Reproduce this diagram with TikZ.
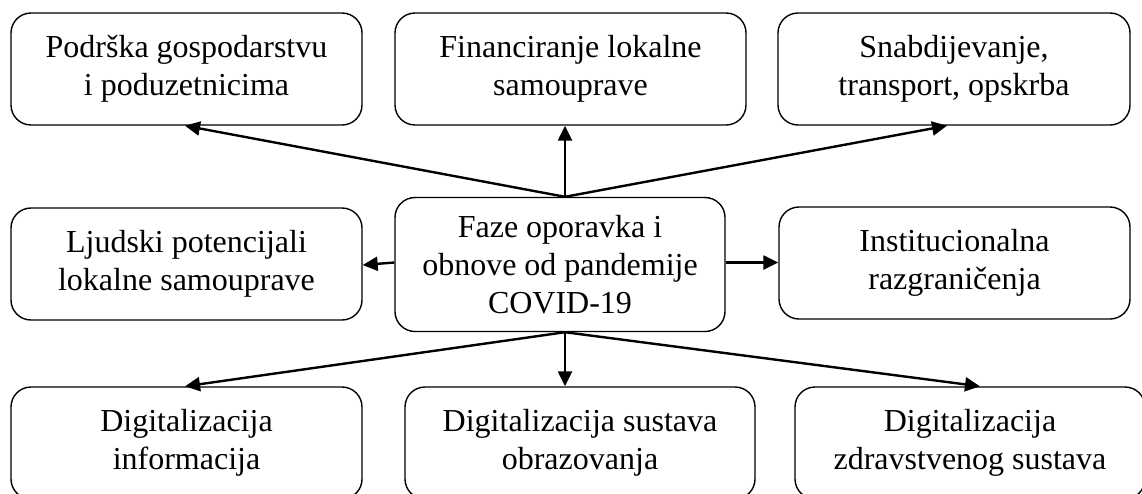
\documentclass[tikz,border=0pt]{standalone}
\usepackage{fontspec}
\setmainfont{Liberation Serif}
\usetikzlibrary{arrows.meta,calc}
\begin{document}
\begin{tikzpicture}[x=1pt,y=-1pt,
  box/.style={draw,line width=1.4pt,rounded corners=20pt,align=center,
    minimum width=351pt,minimum height=112pt,inner sep=0pt,
    font=\fontsize{32}{38}\selectfont},
  arr/.style={line width=2.4pt,-{Triangle[length=15pt,width=14pt]}}]
\useasboundingbox (0,0) rectangle (1142,493);
\clip (0,0) rectangle (1142,493);
\node[box] (tl) at (186.5,69) {Podrška gospodarstvu\\i poduzetnicima};
\node[box] (tm) at (570.5,69) {Financiranje lokalne\\samouprave};
\node[box,minimum width=352pt] (tr) at (954,69) {Snabdijevanje,\\transport, opskrba};
\node[box] (ml) at (186.5,264) {Ljudski potencijali\\lokalne samouprave};
\node[box,minimum width=330pt,minimum height=134pt] (c) at (560,264.5) {Faze oporavka i\\obnove od pandemije\\COVID-19};
\node[box] (mr) at (954.5,263) {Institucionalna\\razgraničenja};
\node[box] (bl) at (186.5,443) {Digitalizacija\\informacija};
\node[box,minimum width=350pt] (bm) at (580,443) {Digitalizacija sustava\\obrazovanja};
\node[box,minimum width=350pt] (br) at (970,443) {Digitalizacija\\zdravstvenog sustava};
\coordinate (ctop) at ($(c.north)+(5,0)$);
\coordinate (cbot) at ($(c.south)+(5,0)$);
\draw[arr] (ctop) -- ($(tl.south)+(-1.5,0)$);
\draw[arr] (ctop) -- (tm.south -| ctop);
\draw[arr] (ctop) -- ($(tr.south)+(-7,0)$);
\draw[arr] ($(c.west)+(0,-2)$) -- ($(ml.east)+(0,1)$);
\draw[arr] ($(c.east)+(0,-2)$) -- (mr.west |- {$(c.east)+(0,-2)$});
\draw[arr] (cbot) -- ($(bl.north)+(-1.5,0)$);
\draw[arr] (cbot) -- (bm.north -| cbot);
\draw[arr] (cbot) -- ($(br.north)+(10,0)$);
\end{tikzpicture}
\end{document}
